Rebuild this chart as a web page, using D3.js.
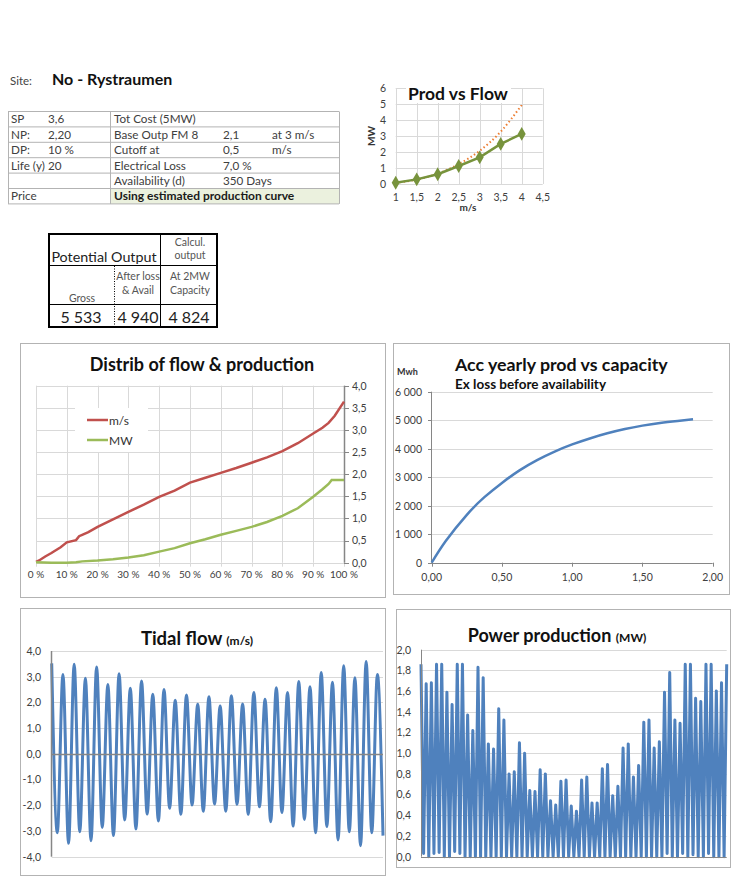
<!DOCTYPE html>
<html><head><meta charset="utf-8">
<script src="https://cdn.jsdelivr.net/npm/d3@7"></script>
<style>
body{margin:0;background:#fff}
text{font-family:Lato,"Open Sans",sans-serif}
</style>
</head><body>
<svg id="c" width="740" height="883"></svg>
<script>
// ---------------- DATA ----------------
const siteLabel = "Site:";
const siteName = "No - Rystraumen";
const infoRows = [
  ["SP","3,6","Tot Cost (5MW)","",""],
  ["NP:","2,20","Base Outp FM 8","2,1","at 3 m/s"],
  ["DP:","10 %","Cutoff at","0,5","m/s"],
  ["Life (y)","20","Electrical Loss","7,0 %",""],
  ["","","Availability (d)","350 Days",""],
  ["Price","","Using estimated production curve","",""]
];
const outputHeaders = ["Gross", "After loss|& Avail", "At 2MW|Capacity"];
const outputValues = ["5 533", "4 940", "4 824"];

// Prod vs Flow
const flowSpeeds = [1, 1.5, 2, 2.5, 3, 3.5, 4];
const prodMW     = [0.08, 0.29, 0.61, 1.13, 1.67, 2.51, 3.14];
const trendMW    = [0.08, 0.28, 0.64, 1.25, 2.08, 3.28, 4.95];

// Distribution of flow & production
const distPct   = [0,0.01,0.03,0.05,0.08,0.10,0.13,0.14,0.15,0.17,0.20,0.25,0.30,0.35,0.40,0.45,0.50,0.55,0.60,0.65,0.70,0.75,0.80,0.85,0.90,0.93,0.95,0.97,1.00];
const distFlow  = [0.02,0.05,0.14,0.22,0.35,0.46,0.51,0.60,0.63,0.69,0.81,0.98,1.15,1.31,1.49,1.63,1.81,1.92,2.03,2.14,2.26,2.38,2.52,2.70,2.92,3.05,3.16,3.32,3.64];
const distPctMW = [0,0.05,0.10,0.13,0.15,0.20,0.25,0.30,0.35,0.40,0.45,0.50,0.55,0.60,0.65,0.70,0.75,0.80,0.85,0.90,0.93,0.95,0.96,1.00];
const distMW    = [0.01,0.00,0.00,0.01,0.03,0.05,0.08,0.12,0.17,0.25,0.33,0.44,0.53,0.63,0.72,0.81,0.92,1.06,1.23,1.49,1.66,1.78,1.87,1.87];

// Acc yearly production vs capacity
const accCap = [0,0.1,0.25,0.375,0.5,0.625,0.75,0.875,1.0,1.125,1.25,1.375,1.5,1.625,1.75,1.86];
const accMWh = [0,760,1680,2300,2800,3240,3600,3900,4150,4360,4540,4690,4810,4905,4975,5030];

// Tidal flow: successive extremes (peak, trough, ...)
const flowExtremes = [
  3.52,-3.07,3.09,-3.48,3.48,-3.03,2.94,-3.38,3.38,-2.86,
  2.70,-3.18,3.12,-2.57,2.55,-2.92,2.83,-2.34,2.32,-2.61,
  2.50,-2.12,2.08,-2.35,2.29,-1.99,1.93,-2.23,2.22,-1.95,
  1.86,-2.23,2.26,-1.96,1.94,-2.35,2.39,-2.06,2.12,-2.64,
  2.57,-2.28,2.39,-2.81,2.81,-2.55,2.61,-3.07,3.16,-2.83,
  2.78,-3.35,3.43,-3.03,2.96,-3.57,3.59,-3.07,3.09,-3.18];

// Power production: peaks and troughs between them
const powerPeaks = [
  1.86,1.67,1.68,1.86,1.86,1.59,1.47,1.86,1.86,1.37,
  1.22,1.83,1.73,1.09,1.04,1.43,1.32,0.80,0.82,1.10,
  1.00,0.64,0.63,0.84,0.80,0.54,0.50,0.73,0.74,0.49,
  0.44,0.74,0.77,0.52,0.52,0.85,0.89,0.59,0.68,1.05,
  1.09,0.77,0.88,1.30,1.32,1.05,1.11,1.59,1.78,1.32,
  1.29,1.86,1.86,1.53,1.50,1.86,1.86,1.60,1.68,1.86];
const powerTroughs = [
  0.03,0,0.03,0.04,0,0,0.05,0.03,0,0,
  0,0,0,0,0,0,0,0,0,0,
  0,0,0,0,0,0,0,0,0,0,
  0,0,0,0,0,0,0,0,0,0,
  0,0,0,0,0,0,0,0.03,0,0,
  0.03,0,0.02,0,0,0.03,0,0,0];

// ---------------- HELPERS ----------------
const svg = d3.select("#c");
const GRID = "#d9d9d9", AXIS = "#868686", LBL = "#404040", BOX = "#b3b3b3";
const TICK = 10.5;
const f1 = v => (v < 0 ? "-" : "") + Math.abs(v).toFixed(1).replace(".", ",");
const f2 = v => v.toFixed(2).replace(".", ",");
const fk = v => v >= 1000 ? Math.floor(v/1000) + " " + String(v % 1000).padStart(3, "0") : String(v);
const fpct = v => Math.round(v*100) + " %";
const fnum = v => String(v).replace(".", ",");

function box(x0, y0, x1, y1) {
  svg.append("rect").attr("x", x0 + 0.5).attr("y", y0 + 0.5)
    .attr("width", x1 - x0).attr("height", y1 - y0)
    .attr("fill", "#fff").attr("stroke", BOX);
}
function hgrid(g, x, y, vals) {
  g.selectAll(null).data(vals).join("line")
    .attr("x1", x.range()[0]).attr("x2", x.range()[1])
    .attr("y1", d => Math.round(y(d)) + 0.5).attr("y2", d => Math.round(y(d)) + 0.5)
    .attr("stroke", GRID);
}
function vgrid(g, x, y, vals) {
  g.selectAll(null).data(vals).join("line")
    .attr("y1", y.range()[0]).attr("y2", y.range()[1])
    .attr("x1", d => Math.round(x(d)) + 0.5).attr("x2", d => Math.round(x(d)) + 0.5)
    .attr("stroke", GRID);
}

// ---------------- HEADER ----------------
svg.append("text").attr("x", 10).attr("y", 85).attr("font-size", 11.5).attr("fill", "#444").text(siteLabel);
svg.append("text").attr("x", 52).attr("y", 85).attr("font-size", 16).attr("font-weight", "bold").attr("fill", "#111").text(siteName);

// info table
const tX0 = 8, tX1 = 339, tY0 = 111.5, rowH = 15.4;
const colX = [11, 48, 114, 223, 272];
svg.append("rect").attr("x", 110).attr("y", tY0 + 5*rowH).attr("width", tX1 - 110).attr("height", rowH).attr("fill", "#ebf1de");
infoRows.forEach((r, i) => {
  r.forEach((t, j) => {
    if (!t) return;
    const strong = i === 5 && j === 2;
    svg.append("text").attr("x", colX[j]).attr("y", tY0 + i*rowH + 11.8)
      .attr("font-size", strong ? 12 : 11.7)
      .attr("font-weight", strong ? "bold" : "normal")
      .attr("fill", strong ? "#1a1a1a" : LBL).text(t);
  });
});
d3.range(7).forEach(i => svg.append("line").attr("x1", tX0).attr("x2", tX1)
  .attr("y1", tY0 + i*rowH).attr("y2", tY0 + i*rowH).attr("stroke", BOX));
[tX0, 110, tX1].forEach(x => svg.append("line").attr("x1", x + 0.5).attr("x2", x + 0.5)
  .attr("y1", tY0).attr("y2", tY0 + 6*rowH).attr("stroke", BOX));

// Potential output box
{
  const g = svg.append("g");
  const L = 49, R = 217, T = 234, B = 327;
  g.append("line").attr("x1", L).attr("x2", R).attr("y1", 265.5).attr("y2", 265.5).attr("stroke", "#000");
  g.append("line").attr("x1", L).attr("x2", R).attr("y1", 304.5).attr("y2", 304.5).attr("stroke", "#000");
  g.append("line").attr("x1", 160.5).attr("x2", 160.5).attr("y1", T).attr("y2", B).attr("stroke", "#000");
  g.append("line").attr("x1", 114.5).attr("x2", 114.5).attr("y1", 266).attr("y2", B).attr("stroke", "#000").attr("stroke-dasharray", "1,1.5");
  g.append("rect").attr("x", L).attr("y", T).attr("width", R - L).attr("height", B - T).attr("fill", "none").attr("stroke", "#000").attr("stroke-width", 2);
  g.append("text").attr("x", 104).attr("y", 262).attr("text-anchor", "middle").attr("font-size", 14.3).attr("fill", "#222").text("Potential Output");
  g.append("text").attr("x", 190).attr("y", 246).attr("text-anchor", "middle").attr("font-size", 10.5).attr("fill", "#555").text("Calcul.");
  g.append("text").attr("x", 190).attr("y", 259).attr("text-anchor", "middle").attr("font-size", 10.5).attr("fill", "#555").text("output");
  const cx = [82, 138, 190];
  outputHeaders.forEach((h, i) => {
    const parts = h.split("|");
    if (parts.length === 1) {
      g.append("text").attr("x", cx[i]).attr("y", 302).attr("text-anchor", "middle").attr("font-size", 10.5).attr("fill", "#555").text(parts[0]);
    } else {
      parts.forEach((p, k) => g.append("text").attr("x", cx[i]).attr("y", 280 + k*13.5).attr("text-anchor", "middle").attr("font-size", 10.5).attr("fill", "#555").text(p));
    }
  });
  const vx = [81, 138, 189];
  outputValues.forEach((v, i) => g.append("text").attr("x", vx[i]).attr("y", 322.5).attr("text-anchor", "middle").attr("font-size", 16).attr("fill", "#222").text(v));
}

// ---------------- PROD VS FLOW ----------------
{
  const g = svg.append("g");
  const x = d3.scaleLinear([1, 4.5], [395.7, 542.7]);
  const y = d3.scaleLinear([0, 6], [184, 88.3]);
  hgrid(g, x, y, y.ticks(6));
  vgrid(g, x, y, x.ticks(7));
  g.selectAll(null).data(y.ticks(6)).join("text").attr("x", 386).attr("y", d => y(d) + 3.8)
    .attr("text-anchor", "end").attr("font-size", TICK).attr("fill", LBL).text(fnum);
  g.selectAll(null).data(x.ticks(7)).join("text").attr("x", d => x(d)).attr("y", 201)
    .attr("text-anchor", "middle").attr("font-size", TICK).attr("fill", LBL).text(fnum);
  g.append("text").attr("x", 468).attr("y", 211).attr("text-anchor", "middle").attr("font-size", 10).attr("font-weight", "bold").attr("fill", "#333").text("m/s");
  g.append("text").attr("transform", "translate(375,136) rotate(-90)").attr("text-anchor", "middle").attr("font-size", 10).attr("font-weight", "bold").attr("fill", "#333").text("MW");
  g.append("rect").attr("x", 406).attr("y", 84).attr("width", 105).attr("height", 19).attr("fill", "#fff");
  g.append("text").attr("x", 458).attr("y", 99.5).attr("text-anchor", "middle").attr("font-size", 17.5).attr("font-weight", "bold").attr("fill", "#111").text("Prod vs Flow");
  const pts = flowSpeeds.map((s, i) => [s, prodMW[i]]);
  const tpts = flowSpeeds.map((s, i) => [s, trendMW[i]]);
  const ln = d3.line().x(d => x(d[0])).y(d => y(d[1]));
  g.append("path").attr("d", ln.curve(d3.curveMonotoneX)(tpts)).attr("fill", "none")
    .attr("stroke", "#ed7d31").attr("stroke-width", 2).attr("stroke-dasharray", "1.5,2.5");
  g.append("path").attr("d", d3.line().x(d => x(d[0])).y(d => y(d[1]))(pts)).attr("fill", "none")
    .attr("stroke", "#77933c").attr("stroke-width", 2.5);
  g.selectAll(null).data(pts).join("path")
    .attr("transform", d => `translate(${x(d[0])},${y(d[1])})`)
    .attr("d", d3.symbol(d3.symbolDiamond, 55)).attr("fill", "#77933c");
}

// ---------------- DISTRIB ----------------
{
  box(20, 343, 385, 597);
  const g = svg.append("g");
  const x = d3.scaleLinear([0, 1], [36, 344]);
  const y = d3.scaleLinear([0, 4], [562.7, 385.7]);
  hgrid(g, x, y, y.ticks(8));
  vgrid(g, x, y, x.ticks(10));
  g.selectAll(null).data(x.ticks(10)).join("line")
    .attr("x1", d => Math.round(x(d)) + 0.5).attr("x2", d => Math.round(x(d)) + 0.5)
    .attr("y1", y(0)).attr("y2", y(0) + 4).attr("stroke", GRID);
  g.append("line").attr("x1", 36).attr("x2", 344).attr("y1", Math.round(y(0)) + 0.5).attr("y2", Math.round(y(0)) + 0.5).attr("stroke", GRID);
  g.append("line").attr("x1", 344.5).attr("x2", 344.5).attr("y1", y(4)).attr("y2", y(0)).attr("stroke", AXIS).attr("stroke-width", 1.5);
  g.selectAll(null).data(y.ticks(8)).join("line").attr("x1", 344).attr("x2", 349)
    .attr("y1", d => Math.round(y(d)) + 0.5).attr("y2", d => Math.round(y(d)) + 0.5).attr("stroke", AXIS);
  g.selectAll(null).data(y.ticks(8)).join("text").attr("x", 352).attr("y", d => y(d) + 3.8)
    .attr("font-size", TICK).attr("fill", LBL).text(f1);
  g.selectAll(null).data(x.ticks(10)).join("text").attr("x", d => x(d)).attr("y", 578)
    .attr("text-anchor", "middle").attr("font-size", 10).attr("fill", LBL).text(fpct);
  g.append("text").attr("x", 202).attr("y", 371).attr("text-anchor", "middle").attr("font-size", 18).attr("font-weight", "bold").attr("fill", "#111").text("Distrib of flow & production");
  const ln = d3.line().x(d => x(d[0])).y(d => y(d[1]));
  g.append("path").attr("d", ln(distPct.map((p, i) => [p, distFlow[i]]))).attr("fill", "none").attr("stroke", "#c0504d").attr("stroke-width", 2.5);
  g.append("path").attr("d", ln(distPctMW.map((p, i) => [p, distMW[i]]))).attr("fill", "none").attr("stroke", "#9bbb59").attr("stroke-width", 2.5);
  g.append("rect").attr("x", 75).attr("y", 408).attr("width", 73).attr("height", 44).attr("fill", "#fff");
  [["m/s", "#c0504d"], ["MW", "#9bbb59"]].forEach((d, i) => {
    g.append("line").attr("x1", 87).attr("x2", 108).attr("y1", 420 + i*20).attr("y2", 420 + i*20).attr("stroke", d[1]).attr("stroke-width", 2.5);
    g.append("text").attr("x", 109).attr("y", 424.5 + i*20).attr("font-size", 12).attr("fill", "#333").text(d[0]);
  });
}

// ---------------- ACC YEARLY ----------------
{
  box(393, 343, 729, 594);
  const g = svg.append("g");
  const x = d3.scaleLinear([0, 2], [431.7, 712.7]);
  const y = d3.scaleLinear([0, 6000], [562.7, 391.7]);
  hgrid(g, x, y, y.ticks(6).filter(d => d > 0));
  g.append("line").attr("x1", 431.5).attr("x2", 431.5).attr("y1", y(6000)).attr("y2", y(0)).attr("stroke", AXIS);
  g.append("line").attr("x1", 428).attr("x2", 712.7).attr("y1", Math.round(y(0)) + 0.5).attr("y2", Math.round(y(0)) + 0.5).attr("stroke", AXIS);
  g.selectAll(null).data(y.ticks(6)).join("line").attr("x1", 428).attr("x2", 431.5)
    .attr("y1", d => Math.round(y(d)) + 0.5).attr("y2", d => Math.round(y(d)) + 0.5).attr("stroke", AXIS);
  g.selectAll(null).data(x.ticks(4)).join("line").attr("x1", d => Math.round(x(d)) + 0.5).attr("x2", d => Math.round(x(d)) + 0.5)
    .attr("y1", y(0)).attr("y2", y(0) + 4).attr("stroke", AXIS);
  g.selectAll(null).data(y.ticks(6)).join("text").attr("x", 422).attr("y", d => y(d) + 3.8)
    .attr("text-anchor", "end").attr("font-size", TICK).attr("fill", LBL).text(fk);
  g.selectAll(null).data(x.ticks(4)).join("text").attr("x", d => x(d)).attr("y", 581)
    .attr("text-anchor", "middle").attr("font-size", TICK).attr("fill", LBL).text(f2);
  g.append("text").attr("x", 397).attr("y", 375).attr("font-size", 9).attr("font-weight", "bold").attr("fill", "#333").text("Mwh");
  g.append("text").attr("x", 455).attr("y", 371).attr("font-size", 17.8).attr("font-weight", "bold").attr("fill", "#111").text("Acc yearly prod vs capacity");
  g.append("text").attr("x", 455).attr("y", 388.5).attr("font-size", 13.5).attr("font-weight", "bold").attr("fill", "#111").text("Ex loss before availability");
  g.append("path").attr("d", d3.line().x(d => x(d[0])).y(d => y(d[1])).curve(d3.curveNatural)(accCap.map((c, i) => [c, accMWh[i]])))
    .attr("fill", "none").attr("stroke", "#4f81bd").attr("stroke-width", 2.5);
}

// ---------------- TIDAL FLOW ----------------
{
  box(20, 608, 385, 875);
  const g = svg.append("g");
  const x = d3.scaleLinear([0, flowExtremes.length - 1], [51.7, 383]);
  const y = d3.scaleLinear([-4, 4], [856.7, 651]);
  hgrid(g, x, y, y.ticks(8));
  g.selectAll(null).data(y.ticks(8)).join("text").attr("x", 41).attr("y", d => y(d) + 3.8)
    .attr("text-anchor", "end").attr("font-size", TICK).attr("fill", LBL).text(f1);
  g.append("path").attr("d", d3.line().x((d, i) => x(i)).y(d => y(d)).curve(d3.curveMonotoneX)(flowExtremes))
    .attr("fill", "none").attr("stroke", "#4f81bd").attr("stroke-width", 3);
  g.append("line").attr("x1", 51.7).attr("x2", 383).attr("y1", Math.round(y(0)) + 0.5).attr("y2", Math.round(y(0)) + 0.5).attr("stroke", AXIS).attr("stroke-width", 1.5);
  g.append("line").attr("x1", 51.5).attr("x2", 51.5).attr("y1", y(4)).attr("y2", y(-4)).attr("stroke", AXIS).attr("stroke-width", 1.5);
  const t = g.append("text").attr("x", 197).attr("y", 645).attr("text-anchor", "middle").attr("font-weight", "bold").attr("fill", "#111");
  t.append("tspan").attr("font-size", 18.5).text("Tidal flow ");
  t.append("tspan").attr("font-size", 12).text("(m/s)");
}

// ---------------- POWER PRODUCTION ----------------
{
  box(396, 609, 730, 867);
  const g = svg.append("g");
  const x = d3.scaleLinear([0, powerPeaks.length - 1], [421, 726.7]);
  const y = d3.scaleLinear([0, 2], [856.7, 649.7]);
  hgrid(g, x, y, y.ticks(10).filter(d => d > 0));
  g.selectAll(null).data(y.ticks(10)).join("text").attr("x", 411).attr("y", d => y(d) + 3.8)
    .attr("text-anchor", "end").attr("font-size", TICK).attr("fill", LBL).text(f1);
  const pts = [];
  powerPeaks.forEach((p, i) => {
    pts.push([i, p]);
    if (i < powerTroughs.length) pts.push([i + 0.5, powerTroughs[i]]);
  });
  g.append("path").attr("d", d3.line().x(d => x(d[0])).y(d => y(d[1])).curve(d3.curveLinear)(pts))
    .attr("fill", "none").attr("stroke", "#4f81bd").attr("stroke-width", 3).attr("stroke-linejoin", "round");
  g.append("line").attr("x1", 421.5).attr("x2", 421.5).attr("y1", y(2)).attr("y2", y(0)).attr("stroke", AXIS);
  g.append("line").attr("x1", 421).attr("x2", 726.7).attr("y1", Math.round(y(0)) + 0.5).attr("y2", Math.round(y(0)) + 0.5).attr("stroke", AXIS);
  const t = g.append("text").attr("x", 557).attr("y", 642).attr("text-anchor", "middle").attr("font-weight", "bold").attr("fill", "#111");
  t.append("tspan").attr("font-size", 18).text("Power production ");
  t.append("tspan").attr("font-size", 12).text("(MW)");
}
</script>
</body></html>
